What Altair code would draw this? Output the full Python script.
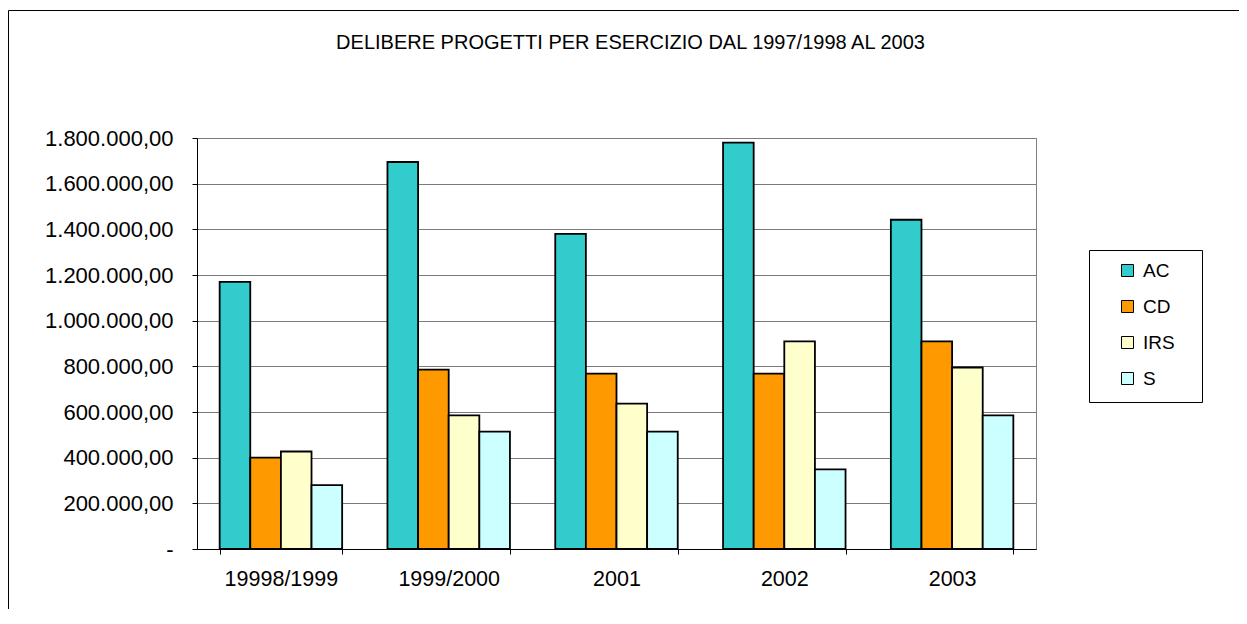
import altair as alt
import pandas as pd

categories = ["19998/1999", "1999/2000", "2001", "2002", "2003"]
series = ["AC", "CD", "IRS", "S"]
AC = [1170000, 1695000, 1380000, 1780000, 1442000]
CD = [400000, 786000, 768000, 768000, 909000]
IRS = [427000, 585000, 637000, 909000, 795000]
S = [280000, 514000, 514000, 349000, 585000]
colors = ["#33CCCC", "#FF9900", "#FFFFCC", "#CCFFFF"]
y_ticks = [0, 200000, 400000, 600000, 800000, 1000000, 1200000, 1400000, 1600000, 1800000]
title_text = "DELIBERE PROGETTI PER ESERCIZIO DAL 1997/1998 AL 2003"

rows = []
for name, vals in zip(series, [AC, CD, IRS, S]):
    for c, v in zip(categories, vals):
        rows.append({"esercizio": c, "serie": name, "valore": v})
df = pd.DataFrame(rows)

FONT = "Liberation Sans"

bars = alt.Chart(df).mark_bar(stroke="black", strokeWidth=1.8).encode(
    x=alt.X("esercizio:N", sort=categories, title=None,
            scale=alt.Scale(paddingInner=0.27, paddingOuter=0.135),
            axis=alt.Axis(labelAngle=0, labelFontSize=21.5, labelFont=FONT, labelColor="black",
                          domainColor="black", tickColor="black", tickSize=5, tickBand="extent",
                          labelPadding=14, grid=False)),
    xOffset=alt.XOffset("serie:N", sort=series,
                        scale=alt.Scale(paddingInner=0, paddingOuter=0)),
    y=alt.Y("valore:Q", title=None,
            scale=alt.Scale(domain=[0, 1800000], nice=False),
            axis=alt.Axis(values=y_ticks, format=",.2f",
                          labelExpr="datum.value == 0 ? '-' : datum.label",
                          labelFontSize=22, labelFont=FONT, labelColor="black",
                          domainColor="black", tickColor="black", tickSize=5,
                          labelPadding=19, grid=True, gridColor="#7a7a7a", gridWidth=1)),
    color=alt.Color("serie:N", sort=series,
                    scale=alt.Scale(domain=series, range=colors),
                    legend=alt.Legend(title=None,
                                      orient="none", legendX=892, legendY=112,
                                      symbolType="square", symbolSize=144,
                                      symbolStrokeColor="black", symbolStrokeWidth=1,
                                      labelFontSize=19, labelFont=FONT, labelColor="black",
                                      rowPadding=16, padding=11, symbolOffset=18, labelOffset=6)),
)

frame_data = alt.Data(values=[{"a": 1}])

border = alt.Chart(frame_data).mark_rect(
    fill=None, stroke="black", strokeWidth=1
).encode(
    x=alt.value(-188.5), x2=alt.value(1100),
    y=alt.value(-127.5), y2=alt.value(600),
)

legend_box = alt.Chart(frame_data).mark_rect(
    fill=None, stroke="black", strokeWidth=1
).encode(
    x=alt.value(892.5), x2=alt.value(1005.5),
    y=alt.value(112.5), y2=alt.value(264.5),
)

chart = alt.layer(border, legend_box, bars).properties(
    width=839,
    height=411,
    padding={"left": 189, "top": 130, "right": 203, "bottom": 60},
    autosize=alt.AutoSizeParams(type="none"),
    title=alt.TitleParams(text=title_text, fontSize=20, font=FONT, fontWeight="normal",
                          color="black", anchor="middle", frame="group", offset=-59, dx=14,
                          baseline="alphabetic"),
).configure(
    locale={"number": {"decimal": ",", "thousands": ".", "grouping": [3], "currency": ["€", ""]}}
).configure_view(stroke="#808080", strokeWidth=1)

chart.save("out.html", embed_options={"renderer": "svg", "actions": False})
